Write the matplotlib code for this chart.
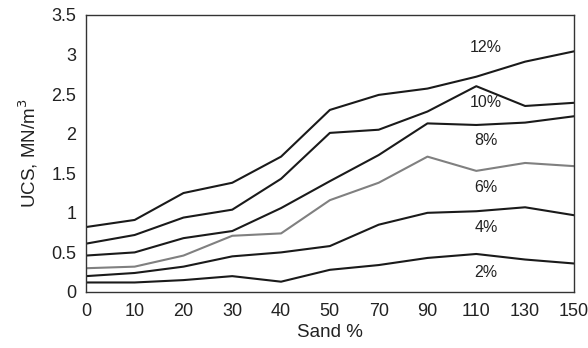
import matplotlib
matplotlib.use("Agg")
import matplotlib.pyplot as plt

sand = ["0", "10", "20", "30", "40", "50", "70", "90", "110", "130", "150"]
ucs_12 = [0.82, 0.91, 1.25, 1.38, 1.71, 2.30, 2.49, 2.57, 2.72, 2.91, 3.04]
ucs_10 = [0.61, 0.72, 0.94, 1.04, 1.43, 2.01, 2.05, 2.28, 2.60, 2.35, 2.39]
ucs_8 = [0.46, 0.50, 0.68, 0.77, 1.06, 1.40, 1.73, 2.13, 2.11, 2.14, 2.22]
ucs_6 = [0.30, 0.32, 0.46, 0.71, 0.74, 1.16, 1.38, 1.71, 1.53, 1.63, 1.59]
ucs_4 = [0.20, 0.24, 0.32, 0.45, 0.50, 0.58, 0.85, 1.00, 1.02, 1.07, 0.97]
ucs_2 = [0.12, 0.12, 0.15, 0.20, 0.13, 0.28, 0.34, 0.43, 0.48, 0.41, 0.36]
labels = ["12%", "10%", "8%", "6%", "4%", "2%"]
label_y = [3.09, 2.39, 1.91, 1.32, 0.81, 0.25]

plt.rcParams['font.family'] = ['Liberation Sans', 'DejaVu Sans']

fig = plt.figure(figsize=(5.88, 3.48), dpi=100)
ax = fig.add_axes([0.146, 0.161, 0.830, 0.796])
x = list(range(len(sand)))
series = [ucs_12, ucs_10, ucs_8, ucs_6, ucs_4, ucs_2]
colors = ["#1a1a1a", "#1a1a1a", "#1a1a1a", "#808080", "#1a1a1a", "#1a1a1a"]
for s, c in zip(series, colors):
    ax.plot(x, s, color=c, lw=1.5)
for lab, ly in zip(labels, label_y):
    ax.text(8.2, ly, lab, ha="center", va="center", fontsize=11.5, color="#222222")

ax.set_xlim(0, 10)
ax.set_ylim(0, 3.5)
ax.set_xticks(x)
ax.set_xticklabels(sand)
ax.set_yticks([0, 0.5, 1, 1.5, 2, 2.5, 3, 3.5])
ax.set_yticklabels(["0", "0.5", "1", "1.5", "2", "2.5", "3", "3.5"])
ax.tick_params(length=0, labelsize=13, colors="#222222", pad=8)
ax.tick_params(axis="y", pad=7)
for sp in ax.spines.values():
    sp.set_linewidth(1.0)
    sp.set_color("#333333")
ax.set_xlabel("Sand %", fontsize=13.5, color="#222222", labelpad=3)
ax.set_ylabel("UCS, MN/m$^3$", fontsize=13.5, color="#222222", labelpad=8)
fig.savefig("out.png", dpi=100)
